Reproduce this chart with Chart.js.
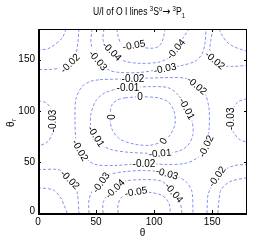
<!DOCTYPE html>
<html>
<head>
<meta charset="utf-8">
<script src="https://cdn.jsdelivr.net/npm/chart.js@4.4.0/dist/chart.umd.min.js"></script>
<style>
  html, body { margin: 0; padding: 0; background: #fff; }
  canvas { display: block; }
</style>
</head>
<body>
<canvas id="c" width="274" height="242"></canvas>
<script>
// tick values on both axes
const xTicks = [0, 50, 100, 150];
const yTicks = [0, 50, 100, 150];

// contour lines, points are [theta, theta_r]
const zeroLoop = [[74.9,112.7],[87.8,113.7],[103.3,112.7],[112.0,108.8],[117.1,99.9],[118.0,87.0],[113.7,76.2],[107.7,70.2],[96.5,66.3],[83.5,67.3],[70.6,72.2],[63.7,82.1],[62.0,94.0],[63.7,105.8],[68.9,110.8],[74.9,112.7]];

const m01Loop = [[68.9,121.6],[77.5,122.6],[96.5,123.6],[112.0,122.6],[120.6,115.7],[128.3,101.9],[132.6,90.0],[133.5,77.1],[129.2,66.3],[120.6,60.3],[105.1,58.4],[79.2,59.3],[62.0,62.3],[53.4,68.2],[49.1,74.2],[45.6,84.1],[45.6,96.9],[49.9,109.8],[57.7,117.7],[68.9,121.6]];
const m01TopLeft = [[24.1,180],[20.7,171.1],[9.5,161.2],[0,159.2]];
const m01TopRight = [[155.9,180],[158.5,174.1],[162.8,167.1],[169.7,162.2],[180,158.2]];
const m01BotLeft = [[0,24.7],[12.9,22.7],[19.0,15.8],[22.4,7.9],[25.0,0]];
const m01BotRight = [[155.0,0],[155.9,12.9],[157.6,22.7],[165.3,30.7],[180,34.6]];

const m02Loop = [[53.4,130.5],[81.8,131.5],[113.7,132.5],[128.3,131.5],[136.9,124.6],[143.8,116.7],[147.3,101.9],[147.3,82.1],[144.7,65.3],[137.8,54.4],[126.6,48.5],[109.4,47.5],[91.3,48.5],[66.3,46.5],[49.1,47.5],[40.5,54.4],[36.2,61.3],[32.7,72.2],[31.9,92.0],[32.7,111.8],[37.9,123.6],[44.8,128.6],[53.4,130.5]];
const m02TopLeft = [[35.3,180],[34.4,167.1],[32.7,156.2],[27.6,147.4],[20.7,142.4],[10.3,140.4],[0,140.4]];
const m02TopRight = [[150.7,180],[148.9,169.1],[148.1,159.2],[152.4,149.3],[158.4,144.4],[167.0,143.4],[180,144.4]];
const m02BotLeft = [[0,42.5],[17.2,42.5],[24.1,38.6],[29.3,30.7],[33.6,20.8],[35.3,0]];
const m02BotRight = [[145.5,0],[146.4,17.8],[149.8,26.7],[154.2,34.6],[161.0,42.5],[169.7,46.5],[180,47.5]];

const m03Top = [[46.5,180],[45.6,166.2],[49.1,155.3],[55.1,145.4],[62.0,139.4],[70.6,137.5],[87.8,137.5],[109.4,141.4],[124.0,144.4],[135.2,148.4],[141.2,155.3],[143.8,166.2],[144.7,180]];
const m03Bottom = [[43.9,0],[43.9,12.9],[47.4,22.7],[54.3,30.7],[62.0,37.6],[74.9,40.5],[92.1,41.5],[109.4,39.6],[120.6,35.6],[128.3,29.7],[132.6,20.8],[133.5,0]];
const m03Left = [[0,109.8],[6.9,107.8],[11.2,101.9],[12.9,90.0],[12.1,77.1],[7.8,69.2],[0,65.3]];
const m03Right = [[180,111.8],[172.3,108.8],[168.0,101.9],[166.2,92.0],[168.0,80.1],[173.2,72.2],[180,69.2]];

const m04Top = [[56.8,180],[56.0,169.1],[59.4,163.2],[63.7,158.2],[68.9,152.3],[74.9,148.4],[87.8,146.4],[103.3,147.4],[112.0,151.3],[118.8,160.2],[124.9,171.1],[130.0,180]];
const m04Bottom = [[56.0,0],[56.0,9.9],[59.4,16.8],[66.3,24.7],[73.2,30.7],[87.8,32.6],[105.1,31.6],[112.0,26.7],[118.0,18.8],[122.3,10.9],[124.0,0]];

const m05Top = [[68.0,180],[68.9,173.1],[71.5,166.2],[77.5,163.2],[87.8,162.2],[98.2,161.2],[104.2,163.2],[107.7,170.1],[109.4,180]];
const m05Bottom = [[68.9,0],[68.9,7.9],[71.5,14.8],[77.5,19.8],[87.8,20.8],[98.2,19.8],[105.9,17.8],[111.1,12.9],[113.7,5.9],[113.7,0]];

const contourLines = [zeroLoop, m01Loop, m01TopLeft, m01TopRight, m01BotLeft, m01BotRight,
  m02Loop, m02TopLeft, m02TopRight, m02BotLeft, m02BotRight,
  m03Top, m03Bottom, m03Left, m03Right, m04Top, m04Bottom, m05Top, m05Bottom];

// inline level labels: text, theta, theta_r, angle in degrees
const contourLabels = [
  ["0", 87.8, 113.7, 0], ["0", 62.0, 94.0, 90], ["0", 108.0, 70.5, -60],
  ["-0.01", 77.5, 122.6, 0], ["-0.01", 128.3, 101.9, 62], ["-0.01", 105.1, 58.4, -5], ["-0.01", 50.0, 75.0, 58],
  ["-0.02", 81.8, 131.5, 0], ["-0.02", 136.9, 124.6, 40], ["-0.02", 144.7, 65.3, -65], ["-0.02", 91.3, 48.5, 0], ["-0.02", 36.2, 61.3, 60],
  ["-0.02", 27.6, 146.4, -45], ["-0.02", 152.4, 149.3, 40], ["-0.02", 27.6, 32.6, 45], ["-0.02", 154.2, 35.6, -55],
  ["-0.03", 51.7, 149.3, 50], ["-0.03", 109.4, 141.4, -12], ["-0.03", 12.5, 90.0, -90], ["-0.03", 166.2, 92.0, -90],
  ["-0.03", 54.3, 29.7, -55], ["-0.03", 111.1, 38.6, 15],
  ["-0.04", 63.7, 158.2, 45], ["-0.04", 118.8, 160.2, -50], ["-0.04", 66.3, 23.7, -45], ["-0.04", 117.1, 19.8, 50],
  ["-0.05", 82.7, 164.2, -10], ["-0.05", 84.4, 20.8, -10]
];

const FONT = '"Liberation Sans", Arial, sans-serif';

const decor = {
  id: 'decor',
  afterDatasetsDraw(chart) {
    const { ctx, chartArea: a, scales: { x, y } } = chart;
    ctx.save();

    // labels on the contours, with the line broken under them
    ctx.font = '10px ' + FONT;
    ctx.textAlign = 'center';
    ctx.textBaseline = 'middle';
    contourLabels.forEach(([t, tx, ty, ang]) => {
      const w = ctx.measureText(t).width;
      ctx.save();
      ctx.translate(x.getPixelForValue(tx), y.getPixelForValue(ty));
      ctx.rotate(ang * Math.PI / 180);
      ctx.fillStyle = '#fff';
      ctx.fillRect(-w / 2 - 1, -4, w + 2, 8);
      ctx.fillStyle = '#000';
      ctx.fillText(t, 0, 0.5);
      ctx.restore();
    });

    // frame
    ctx.strokeStyle = '#000';
    ctx.lineWidth = 1;
    ctx.strokeRect(a.left + 0.5, a.top + 0.5, a.right - a.left - 1, a.bottom - a.top);
    ctx.lineWidth = 2;
    ctx.beginPath();
    ctx.moveTo(a.left + 1, a.top);
    ctx.lineTo(a.left + 1, a.bottom + 1);
    ctx.lineTo(a.right, a.bottom + 1);
    ctx.stroke();

    // ticks, pointing in
    ctx.lineWidth = 1;
    ctx.beginPath();
    xTicks.forEach(v => {
      const px = Math.round(x.getPixelForValue(v)) + 0.5;
      ctx.moveTo(px, a.bottom); ctx.lineTo(px, a.bottom - 3);
      ctx.moveTo(px, a.top); ctx.lineTo(px, a.top + 3);
    });
    yTicks.forEach(v => {
      const py = Math.round(y.getPixelForValue(v)) + 0.5;
      ctx.moveTo(a.left, py); ctx.lineTo(a.left + 3, py);
      ctx.moveTo(a.right, py); ctx.lineTo(a.right - 3, py);
    });
    ctx.stroke();

    // tick labels
    ctx.fillStyle = '#000';
    ctx.font = '10px ' + FONT;
    ctx.textAlign = 'center';
    ctx.textBaseline = 'middle';
    xTicks.forEach(v => ctx.fillText(String(v), x.getPixelForValue(v), a.bottom + 9));
    ctx.textAlign = 'right';
    yTicks.forEach(v => ctx.fillText(String(v), a.left - 3, y.getPixelForValue(v) - (v === 0 ? 2 : 0)));

    // axis titles
    ctx.textAlign = 'center';
    ctx.font = '10px ' + FONT;
    ctx.fillText('\u03b8', (a.left + a.right) / 2, a.bottom + 20);
    ctx.save();
    ctx.translate(11, (a.top + a.bottom) / 2 + 2);
    ctx.rotate(-Math.PI / 2);
    ctx.textAlign = 'left';
    ctx.fillText('\u03b8', -4, 0);
    ctx.font = '7px ' + FONT;
    ctx.fillText('r', 2, 3);
    ctx.restore();

    // title with super/subscripts
    const segs = [
      { t: 'U/I of O I lines ', s: 10, dy: 0, f: FONT },
      { t: '3', s: 7, dy: -4, f: FONT },
      { t: 'S', s: 10, dy: 0, f: FONT },
      { t: 'o', s: 7, dy: -4, f: FONT },
      { t: '\u2192', s: 11, dy: 0, f: '"DejaVu Sans", sans-serif' },
      { t: ' ', s: 10, dy: 0, f: FONT },
      { t: '3', s: 7, dy: -4, f: FONT },
      { t: 'P', s: 10, dy: 0, f: FONT },
      { t: '1', s: 7, dy: 3, f: FONT }
    ];
    const sx = 0.86;
    let total = 0;
    segs.forEach(g => { ctx.font = g.s + 'px ' + g.f; total += ctx.measureText(g.t).width; });
    ctx.save();
    ctx.translate(139 - total * sx / 2, 15);
    ctx.scale(sx, 1);
    ctx.textAlign = 'left';
    ctx.textBaseline = 'alphabetic';
    let cx = 0;
    segs.forEach(g => {
      ctx.font = g.s + 'px ' + g.f;
      ctx.fillText(g.t, cx, g.dy);
      cx += ctx.measureText(g.t).width;
    });
    ctx.restore();

    ctx.restore();
  }
};

new Chart(document.getElementById('c'), {
  type: 'scatter',
  data: {
    datasets: contourLines.map(line => ({
      data: line.map(([t, r]) => ({ x: t, y: r })),
      showLine: true,
      borderColor: '#8292f2',
      borderWidth: 1,
      borderDash: [3, 2],
      pointRadius: 0,
      tension: 0.3,
      fill: false
    }))
  },
  options: {
    responsive: false,
    animation: false,
    devicePixelRatio: 1,
    layout: { padding: { left: 38, right: 27, top: 29, bottom: 29 } },
    plugins: { legend: { display: false }, tooltip: { enabled: false } },
    scales: {
      x: { type: 'linear', min: 0, max: 180, display: false },
      y: { type: 'linear', min: 0, max: 180, display: false }
    }
  },
  plugins: [decor]
});
</script>
</body>
</html>
